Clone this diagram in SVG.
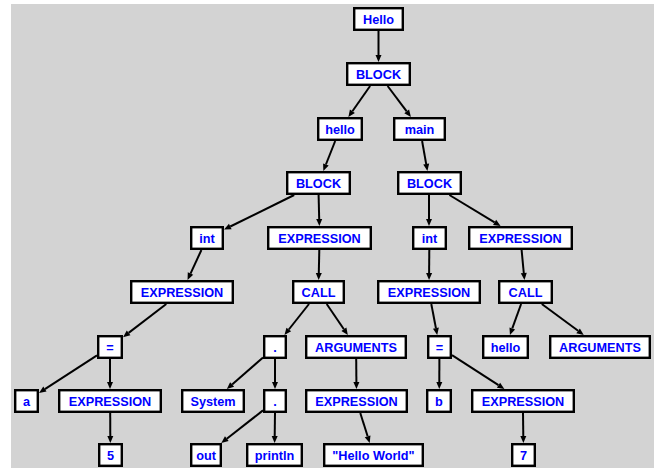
<svg xmlns="http://www.w3.org/2000/svg" width="659" height="468" viewBox="0 0 659 468">
  <style>
    .node rect { fill: #ffffff; stroke: #000000; stroke-width: 2.4; }
    .node text { font-family: "Liberation Sans", Arial, sans-serif; font-weight: bold; font-size: 12.7px; fill: #0000ff; text-anchor: middle; }
    .edges path { fill: none; stroke: #000000; stroke-width: 2; marker-end: url(#arrow); }
  </style>
  <defs>
    <marker id="arrow" markerUnits="userSpaceOnUse" markerWidth="8" markerHeight="8" refX="0" refY="3" orient="auto" overflow="visible">
      <path d="M0,0 L7,3 L0,6 Z" fill="#000000"/>
    </marker>
  </defs>
  <rect x="0" y="0" width="659" height="468" fill="#ffffff"/>
  <rect x="11" y="4" width="643" height="464" fill="#d3d3d3"/>

  <!-- connectors -->
  <g class="edges">
    <path d="M378.5,31 L378.5,55"/>
    <path d="M370.1,86 L352.4,111.3"/>
    <path d="M387.6,86 L406.7,111.4"/>
    <path d="M335.2,141 L325.9,164.5"/>
    <path d="M422.1,141 L426.2,164.1"/>
    <path d="M294.2,195 L230.3,226.5"/>
    <path d="M318.6,195 L319.2,219"/>
    <path d="M429,195 L429,219"/>
    <path d="M449.4,195 L494.6,222.4"/>
    <path d="M201.4,250 L190.5,273.6"/>
    <path d="M319.3,250 L318.8,273"/>
    <path d="M429.3,250 L429.1,273"/>
    <path d="M521.6,250 L523.8,273"/>
    <path d="M166.3,304 L128.6,332.9"/>
    <path d="M309,304 L288.8,329.5"/>
    <path d="M326.7,304 L343.9,329.2"/>
    <path d="M431.3,304 L435.9,328.1"/>
    <path d="M521.1,304 L512.3,328.4"/>
    <path d="M541.8,304 L578.1,330.8"/>
    <path d="M97,355.4 L44.9,389.1"/>
    <path d="M110,359 L110,382"/>
    <path d="M263,357.5 L232.1,384.4"/>
    <path d="M275,359 L275,382"/>
    <path d="M356.2,359 L356.4,382"/>
    <path d="M439.4,359 L439.3,382"/>
    <path d="M452,355.1 L498.5,385.2"/>
    <path d="M110.2,413 L110.3,436"/>
    <path d="M263,410.4 L226.8,438.7"/>
    <path d="M275,413 L274.7,436"/>
    <path d="M360.3,413 L367.6,436.3"/>
    <path d="M523,413 L523.3,436"/>
  </g>

  <!-- nodes -->
  <g id="n1" class="node"><rect x="354.2" y="8.2" width="48.6" height="21.6"/><text x="378.5" y="23.5">Hello</text></g>
  <g id="n2" class="node"><rect x="347.2" y="63.2" width="62.6" height="21.6"/><text x="378.5" y="78.5">BLOCK</text></g>
  <g id="n3" class="node"><rect x="318.2" y="118.2" width="43.6" height="21.6"/><text x="340" y="133.5">hello</text></g>
  <g id="n4" class="node"><rect x="394.2" y="118.2" width="50.6" height="21.6"/><text x="419.5" y="133.5">main</text></g>
  <g id="n5" class="node"><rect x="287.2" y="172.2" width="62.6" height="21.6"/><text x="318.5" y="187.5">BLOCK</text></g>
  <g id="n6" class="node"><rect x="398.2" y="172.2" width="62.6" height="21.6"/><text x="429.5" y="187.5">BLOCK</text></g>
  <g id="n7" class="node"><rect x="191.2" y="227.2" width="31.6" height="21.6"/><text x="207" y="242.5">int</text></g>
  <g id="n8" class="node"><rect x="268.2" y="227.2" width="102.6" height="21.6"/><text x="319.5" y="242.5">EXPRESSION</text></g>
  <g id="n9" class="node"><rect x="413.2" y="227.2" width="32.6" height="21.6"/><text x="429.5" y="242.5">int</text></g>
  <g id="n10" class="node"><rect x="469.2" y="227.2" width="102.6" height="21.6"/><text x="520.5" y="242.5">EXPRESSION</text></g>
  <g id="n11" class="node"><rect x="131.2" y="281.2" width="101.6" height="21.6"/><text x="182" y="296.5">EXPRESSION</text></g>
  <g id="n12" class="node"><rect x="293.2" y="281.2" width="50.6" height="21.6"/><text x="318.5" y="296.5">CALL</text></g>
  <g id="n13" class="node"><rect x="378.2" y="281.2" width="101.6" height="21.6"/><text x="429" y="296.5">EXPRESSION</text></g>
  <g id="n14" class="node"><rect x="499.2" y="281.2" width="52.6" height="21.6"/><text x="525.5" y="296.5">CALL</text></g>
  <g id="n15" class="node"><rect x="98.2" y="336.2" width="23.6" height="21.6"/><text x="110" y="351.5">=</text></g>
  <g id="n16" class="node"><rect x="264.2" y="336.2" width="21.6" height="21.6"/><text x="275" y="351.5">.</text></g>
  <g id="n17" class="node"><rect x="306.2" y="336.2" width="99.6" height="21.6"/><text x="356" y="351.5">ARGUMENTS</text></g>
  <g id="n18" class="node"><rect x="428.2" y="336.2" width="22.6" height="21.6"/><text x="439.5" y="351.5">=</text></g>
  <g id="n19" class="node"><rect x="483.2" y="336.2" width="44.6" height="21.6"/><text x="505.5" y="351.5">hello</text></g>
  <g id="n20" class="node"><rect x="550.2" y="336.2" width="99.6" height="21.6"/><text x="600" y="351.5">ARGUMENTS</text></g>
  <g id="n21" class="node"><rect x="15.2" y="390.2" width="22.6" height="21.6"/><text x="26.5" y="405.5">a</text></g>
  <g id="n22" class="node"><rect x="59.2" y="390.2" width="101.6" height="21.6"/><text x="110" y="405.5">EXPRESSION</text></g>
  <g id="n23" class="node"><rect x="182.2" y="390.2" width="61.6" height="21.6"/><text x="213" y="405.5">System</text></g>
  <g id="n24" class="node"><rect x="264.2" y="390.2" width="21.6" height="21.6"/><text x="275" y="405.5">.</text></g>
  <g id="n25" class="node"><rect x="306.2" y="390.2" width="100.6" height="21.6"/><text x="356.5" y="405.5">EXPRESSION</text></g>
  <g id="n26" class="node"><rect x="427.2" y="390.2" width="23.6" height="21.6"/><text x="439" y="405.5">b</text></g>
  <g id="n27" class="node"><rect x="472.2" y="390.2" width="101.6" height="21.6"/><text x="523" y="405.5">EXPRESSION</text></g>
  <g id="n28" class="node"><rect x="99.2" y="444.2" width="22.6" height="21.6"/><text x="110.5" y="459.5">5</text></g>
  <g id="n29" class="node"><rect x="191.2" y="444.2" width="29.6" height="21.6"/><text x="206" y="459.5">out</text></g>
  <g id="n30" class="node"><rect x="247.2" y="444.2" width="54.6" height="21.6"/><text x="274.5" y="459.5">println</text></g>
  <g id="n31" class="node"><rect x="324.2" y="444.2" width="98.6" height="21.6"/><text x="373.5" y="459.5">"Hello World"</text></g>
  <g id="n32" class="node"><rect x="512.2" y="444.2" width="22.6" height="21.6"/><text x="523.5" y="459.5">7</text></g>
</svg>
